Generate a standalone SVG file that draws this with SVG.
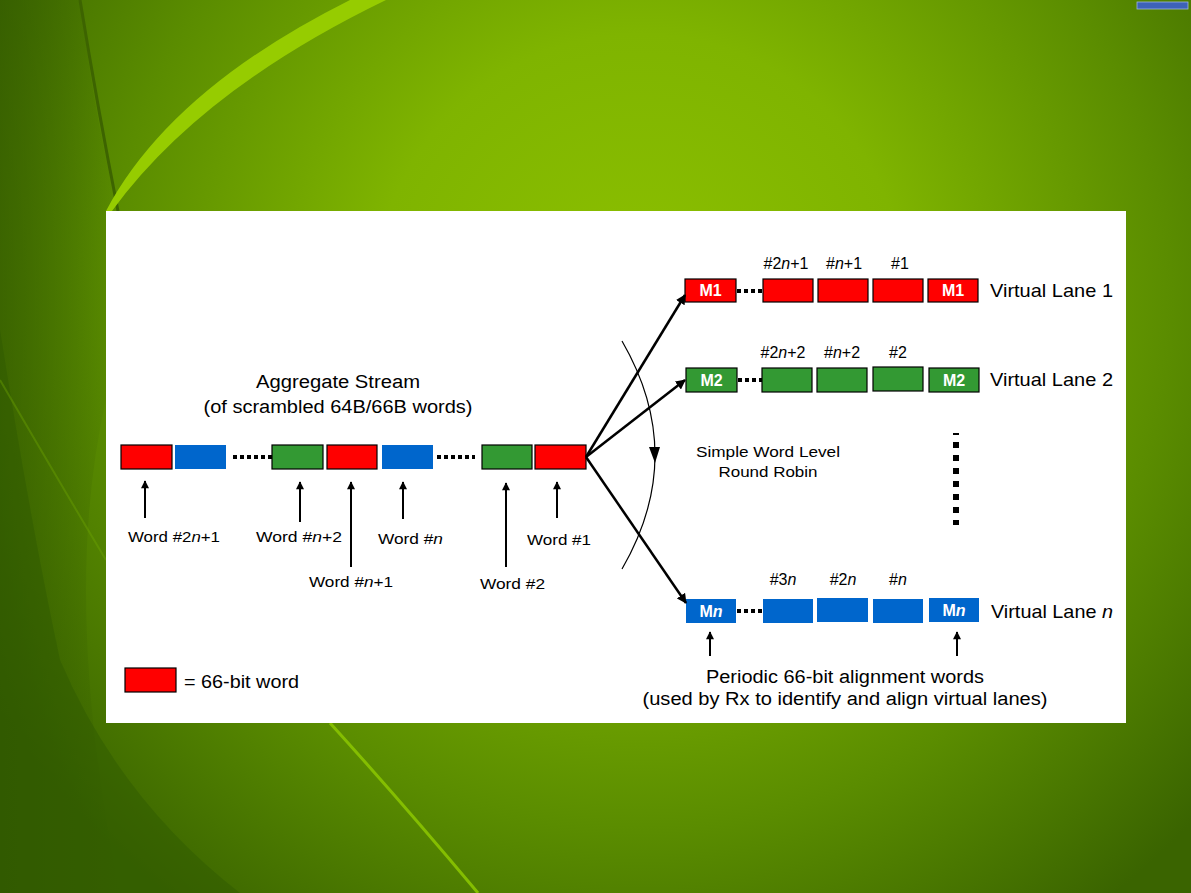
<svg xmlns="http://www.w3.org/2000/svg" width="1191" height="893" viewBox="0 0 1191 893">
<defs>
<radialGradient id="bg" cx="640" cy="300" r="760" gradientUnits="userSpaceOnUse">
<stop offset="0" stop-color="#8cc000"/>
<stop offset="0.35" stop-color="#7fb400"/>
<stop offset="0.7" stop-color="#5a8c00"/>
<stop offset="1" stop-color="#3a6400"/>
</radialGradient>
<linearGradient id="dk" x1="0" y1="0" x2="1" y2="0">
<stop offset="0" stop-color="#2f5500" stop-opacity="0.55"/>
<stop offset="1" stop-color="#2f5500" stop-opacity="0"/>
</linearGradient>
<marker id="ah" viewBox="0 0 10 10" refX="9" refY="5" markerWidth="4" markerHeight="4" orient="auto" markerUnits="strokeWidth">
<path d="M0,0 L10,5 L0,10 z" fill="#000"/>
</marker>
<marker id="ahs" viewBox="0 0 10 10" refX="9" refY="5" markerWidth="4.5" markerHeight="4" orient="auto" markerUnits="strokeWidth">
<path d="M0,0 L10,5 L0,10 z" fill="#000"/>
</marker>
</defs>
<style>
.t{font-family:"Liberation Sans",Arial,sans-serif;fill:#000}
.w{font-family:"Liberation Sans",Arial,sans-serif;fill:#fff;font-weight:bold;font-size:16px}
.r{fill:#ff0000;stroke:#000;stroke-width:1.2}
.g{fill:#339933;stroke:#000;stroke-width:1.2}
.b{fill:#0066cc}
.dots{stroke:#000;stroke-width:4;stroke-dasharray:4 3;fill:none}
.arr{stroke:#000;stroke-width:2;fill:none;marker-end:url(#ahs)}
.fan{stroke:#000;stroke-width:2.5;fill:none;marker-end:url(#ah)}
</style>
<!-- background -->
<g id="background">
<rect x="0" y="0" width="1191" height="893" fill="url(#bg)"/>
<path d="M0,0 L80,0 Q95,120 118,211 L106,400 Q60,600 120,893 L0,893 z" fill="url(#dk)"/>
<path d="M0,330 Q30,520 60,660 Q120,800 240,893 L0,893 z" fill="#2f5800" opacity="0.45"/>
<path d="M80,0 Q98,110 118,211" stroke="#3d6400" stroke-width="3" fill="none"/>
<path d="M350,0 L386,0 Q200,90 112,211 L106,211 Q170,90 350,0 z" fill="#96cc00"/>
<path d="M330,723 Q400,800 478,893" stroke="#84be00" stroke-width="3" fill="none"/>
<path d="M0,380 Q70,500 106,560" stroke="#6ea400" stroke-width="2" fill="none" opacity="0.4"/>
<rect x="1137" y="2" width="51" height="7" fill="#3d62b8" stroke="#9fb3e0" stroke-width="0.8"/>
</g>
<rect id="panel" x="106" y="211" width="1020" height="512" fill="#fff"/>
<!-- aggregate stream title -->
<g id="title">
<text class="t" x="338" y="388" font-size="18" text-anchor="middle" textLength="164" lengthAdjust="spacingAndGlyphs">Aggregate Stream</text>
<text class="t" x="338" y="413" font-size="18" text-anchor="middle" textLength="269" lengthAdjust="spacingAndGlyphs">(of scrambled 64B/66B words)</text>
</g>
<!-- stream words -->
<g id="stream">
<rect class="r" x="121" y="445" width="51" height="24"/>
<rect class="b" x="175" y="445" width="51" height="24"/>
<rect class="g" x="272" y="445" width="51" height="24"/>
<rect class="r" x="327" y="445" width="50" height="24"/>
<rect class="b" x="382" y="445" width="51" height="24"/>
<rect class="g" x="482" y="445" width="50" height="24"/>
<rect class="r" x="535" y="445" width="51" height="24"/>
</g>
<!-- stream labels -->
<g id="stream-labels">
<text class="t" x="128" y="542" font-size="15" textLength="92" lengthAdjust="spacingAndGlyphs">Word #2<tspan font-style="italic">n</tspan>+1</text>
<text class="t" x="256" y="542" font-size="15" textLength="86" lengthAdjust="spacingAndGlyphs">Word #<tspan font-style="italic">n</tspan>+2</text>
<text class="t" x="378" y="544" font-size="15" textLength="65" lengthAdjust="spacingAndGlyphs">Word #<tspan font-style="italic">n</tspan></text>
<text class="t" x="309" y="587" font-size="15" textLength="84" lengthAdjust="spacingAndGlyphs">Word #<tspan font-style="italic">n</tspan>+1</text>
<text class="t" x="527" y="545" font-size="15" textLength="64" lengthAdjust="spacingAndGlyphs">Word #1</text>
<text class="t" x="480" y="589" font-size="15" textLength="65" lengthAdjust="spacingAndGlyphs">Word #2</text>
</g>
<!-- lane 1 -->
<g id="lane1">
<text class="t" x="786" y="269" font-size="16" text-anchor="middle">#2<tspan font-style="italic">n</tspan>+1</text>
<text class="t" x="844" y="269" font-size="16" text-anchor="middle">#<tspan font-style="italic">n</tspan>+1</text>
<text class="t" x="900" y="269" font-size="16" text-anchor="middle">#1</text>
<rect class="r" x="685" y="279" width="51" height="23"/>
<text class="w" x="710.5" y="296" text-anchor="middle">M1</text>
<rect class="r" x="763" y="279" width="50" height="23"/>
<rect class="r" x="818" y="279" width="50" height="23"/>
<rect class="r" x="873" y="279" width="50" height="23"/>
<rect class="r" x="928" y="279" width="50" height="23"/>
<text class="w" x="953" y="296" text-anchor="middle">M1</text>
<text class="t" x="990" y="297" font-size="19" textLength="123" lengthAdjust="spacingAndGlyphs">Virtual Lane 1</text>
</g>
<!-- lane 2 -->
<g id="lane2">
<text class="t" x="783" y="358" font-size="16" text-anchor="middle">#2<tspan font-style="italic">n</tspan>+2</text>
<text class="t" x="842" y="358" font-size="16" text-anchor="middle">#<tspan font-style="italic">n</tspan>+2</text>
<text class="t" x="898" y="358" font-size="16" text-anchor="middle">#2</text>
<rect class="g" x="686" y="368" width="51" height="24"/>
<text class="w" x="711.5" y="386" text-anchor="middle">M2</text>
<rect class="g" x="762" y="368" width="50" height="24"/>
<rect class="g" x="817" y="368" width="50" height="24"/>
<rect class="g" x="873" y="367" width="50" height="24"/>
<rect class="g" x="929" y="368" width="50" height="24"/>
<text class="w" x="954" y="386" text-anchor="middle">M2</text>
<text class="t" x="990" y="386" font-size="19" textLength="123" lengthAdjust="spacingAndGlyphs">Virtual Lane 2</text>
</g>
<!-- lane n -->
<g id="lanen">
<text class="t" x="783" y="585" font-size="16" text-anchor="middle">#3<tspan font-style="italic">n</tspan></text>
<text class="t" x="843" y="585" font-size="16" text-anchor="middle">#2<tspan font-style="italic">n</tspan></text>
<text class="t" x="898" y="585" font-size="16" text-anchor="middle">#<tspan font-style="italic">n</tspan></text>
<rect class="b" x="686" y="599" width="50" height="24"/>
<text class="w" x="711" y="617" text-anchor="middle">M<tspan font-style="italic">n</tspan></text>
<rect class="b" x="763" y="599" width="50" height="24"/>
<rect class="b" x="817" y="598" width="51" height="24"/>
<rect class="b" x="873" y="599" width="50" height="24"/>
<rect class="b" x="929" y="598" width="50" height="24"/>
<text class="w" x="954" y="616" text-anchor="middle">M<tspan font-style="italic">n</tspan></text>
<text class="t" x="991" y="618" font-size="19" textLength="122" lengthAdjust="spacingAndGlyphs">Virtual Lane <tspan font-style="italic">n</tspan></text>
</g>
<!-- round robin label -->
<g id="roundrobin">
<text class="t" x="768" y="457" font-size="15" text-anchor="middle" textLength="144" lengthAdjust="spacingAndGlyphs">Simple Word Level</text>
<text class="t" x="768" y="477" font-size="15" text-anchor="middle" textLength="99" lengthAdjust="spacingAndGlyphs">Round Robin</text>
</g>
<!-- alignment words note -->
<g id="note">
<text class="t" x="845" y="683" font-size="18" text-anchor="middle" textLength="278" lengthAdjust="spacingAndGlyphs">Periodic 66-bit alignment words</text>
<text class="t" x="845" y="705" font-size="18" text-anchor="middle" textLength="405" lengthAdjust="spacingAndGlyphs">(used by Rx to identify and align virtual lanes)</text>
</g>
<!-- legend -->
<g id="legend">
<rect class="r" x="125" y="668" width="51" height="24"/>
<text class="t" x="184" y="688" font-size="18" textLength="115" lengthAdjust="spacingAndGlyphs">= 66-bit word</text>
</g>
<!-- connectors -->
<g id="connectors">
<line class="dots" x1="233" y1="457" x2="272" y2="457"/>
<line class="dots" x1="437" y1="457" x2="475" y2="457"/>
<line class="dots" x1="737" y1="291" x2="763" y2="291"/>
<line class="dots" x1="738" y1="380" x2="762" y2="380"/>
<line class="dots" x1="737" y1="611" x2="763" y2="611"/>
<line x1="956" y1="433" x2="956" y2="525" stroke="#000" stroke-width="6" stroke-dasharray="2 7 6 7 6 7 6 7 6 7 6 7 6 7 6 7 6 7"/>
<line class="arr" x1="145" y1="518" x2="145" y2="481"/>
<line class="arr" x1="300" y1="522" x2="300" y2="482"/>
<line class="arr" x1="351" y1="567" x2="351" y2="482"/>
<line class="arr" x1="403" y1="519" x2="403" y2="482"/>
<line class="arr" x1="506" y1="567" x2="506" y2="483"/>
<line class="arr" x1="557" y1="518" x2="557" y2="482"/>
<line class="arr" x1="710" y1="656" x2="710" y2="632"/>
<line class="arr" x1="957" y1="656" x2="957" y2="632"/>
<line class="fan" x1="586" y1="457" x2="685" y2="295"/>
<line class="fan" x1="586" y1="457" x2="685" y2="380"/>
<line class="fan" x1="586" y1="457" x2="686" y2="603"/>
<path d="M622,341 Q688,455 622,569" stroke="#000" stroke-width="1.2" fill="none"/>
<path d="M649,447 L660,447 L655,463 z" fill="#000"/>
</g>
</svg>
